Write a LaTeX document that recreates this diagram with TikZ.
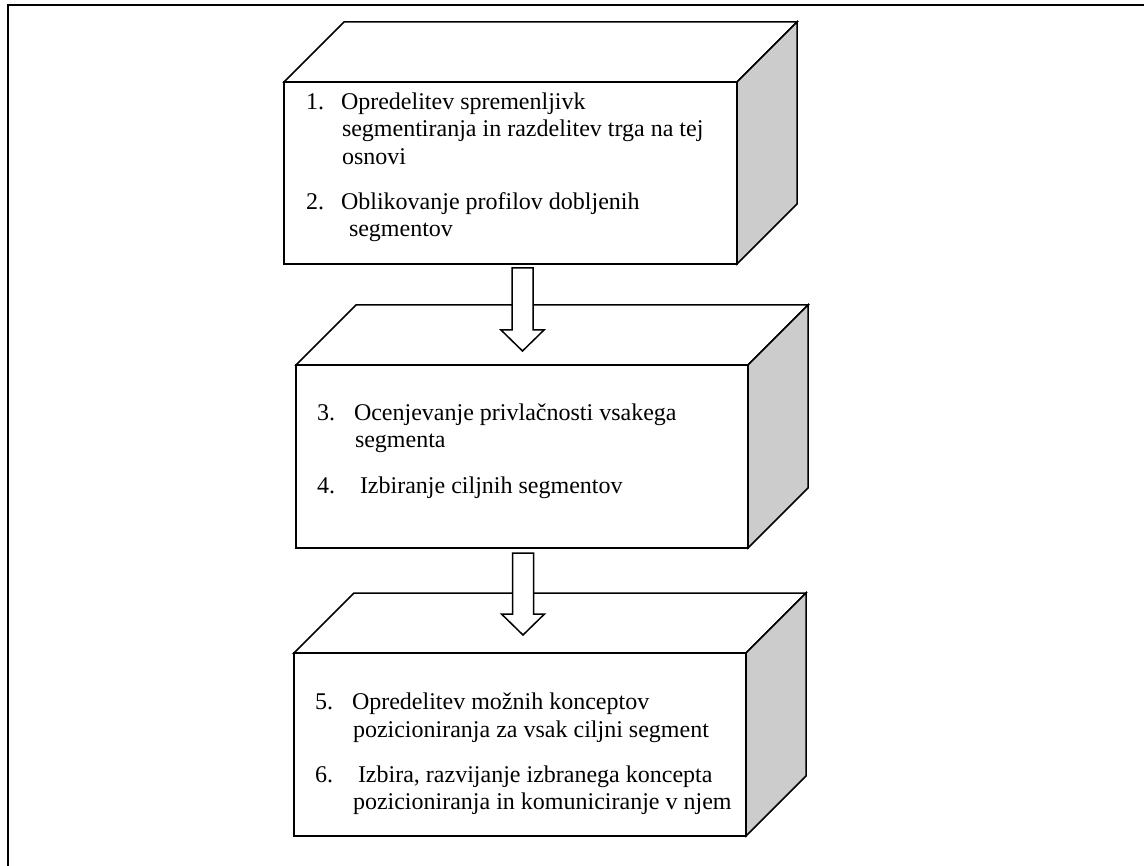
\documentclass[tikz,border=0pt]{standalone}
\usepackage{fontspec}
\setmainfont{Liberation Serif}
\usetikzlibrary{calc}
\definecolor{sideface}{RGB}{204,204,204}
\tikzset{
  edge/.style={draw=black, line width=1.5pt, line join=miter},
  frameline/.style={draw=black, line width=2.2pt},
  item/.style={anchor=base west, inner sep=0pt, outer sep=0pt,
               font=\fontsize{24}{27}\selectfont},
  flowarrow/.style={edge, fill=white},
}
% a box seen in perspective: name, front-left x, front-top y, width, height, depth
\newcommand\stepblock[6]{%
  \pgfmathsetmacro\bxr{#2+#4}%
  \pgfmathsetmacro\byb{#3+#5}%
  \pgfmathsetmacro\bxd{#2+#6}%
  \pgfmathsetmacro\byd{#3-#6}%
  \pgfmathsetmacro\bxrd{#2+#4+#6}%
  \pgfmathsetmacro\bybd{#3+#5-#6}%
  \path[edge, fill=white] (#2,#3) -- (\bxd,\byd) -- (\bxrd,\byd) -- (\bxr,#3) -- cycle;
  \path[edge, fill=sideface] (\bxr,#3) -- (\bxrd,\byd) -- (\bxrd,\bybd) -- (\bxr,\byb) -- cycle;
  \path[edge, fill=white] (#2,#3) rectangle (\bxr,\byb);
  \coordinate (#1-top) at ({#2+#4/2},\byd);
  \coordinate (#1-bottom) at ({#2+#4/2},\byb);
}
% hollow downward block arrow starting at a named coordinate
\newcommand\blockarrow[2]{%
  \draw[flowarrow] ($(#1)+(-10.5,0)$) -- ($(#1)+(-10.5,#2)$) -- ($(#1)+(-21.5,#2)$)
    -- ($(#1)+(0,#2+21)$) -- ($(#1)+(21.5,#2)$) -- ($(#1)+(10.5,#2)$)
    -- ($(#1)+(10.5,0)$) -- cycle;
}
\begin{document}
\begin{tikzpicture}[x=1pt, y=-1pt]
  \useasboundingbox (0,0) rectangle (1144,866);
  % outer frame (runs off the page to the right and below)
  \draw[frameline] (1150,5.3) -- (8.3,5.3) -- (8.3,870);

  % the three stages
  \stepblock{s1}{284}{82}{453}{182}{60}
  \stepblock{s2}{296}{365}{452}{183}{60}
  \stepblock{s3}{294}{653}{452}{183}{60}

  % arrows between the stages
  \coordinate (a1) at (522.5,268);
  \coordinate (a2) at (523,553);
  \blockarrow{a1}{62}
  \blockarrow{a2}{61}

  % stage 1
  \node[item] (n1) at (306,110) {1.};
  \node[item] (t1a) at (341,110) {Opredelitev spremenljivk};
  \node[item] (t1b) at (342,137) {segmentiranja in razdelitev trga na tej};
  \node[item] (t1c) at (342,165) {osnovi};
  \node[item] (n2) at (306,210) {2.};
  \node[item] (t2a) at (341,210) {Oblikovanje profilov dobljenih};
  \node[item] (t2b) at (349,237) {segmentov};

  % stage 2
  \node[item] (n3) at (317,421) {3.};
  \node[item] (t3a) at (354,421) {Ocenjevanje privlačnosti vsakega};
  \node[item] (t3b) at (355,448) {segmenta};
  \node[item] (n4) at (317,494) {4.};
  \node[item] (t4a) at (360,494) {Izbiranje ciljnih segmentov};

  % stage 3
  \node[item] (n5) at (315,709) {5.};
  \node[item] (t5a) at (352,709) {Opredelitev možnih konceptov};
  \node[item] (t5b) at (353,737) {pozicioniranja za vsak ciljni segment};
  \node[item] (n6) at (315,782) {6.};
  \node[item] (t6a) at (358,782) {Izbira, razvijanje izbranega koncepta};
  \node[item] (t6b) at (353,809) {pozicioniranja in komuniciranje v njem};
\end{tikzpicture}
\end{document}
